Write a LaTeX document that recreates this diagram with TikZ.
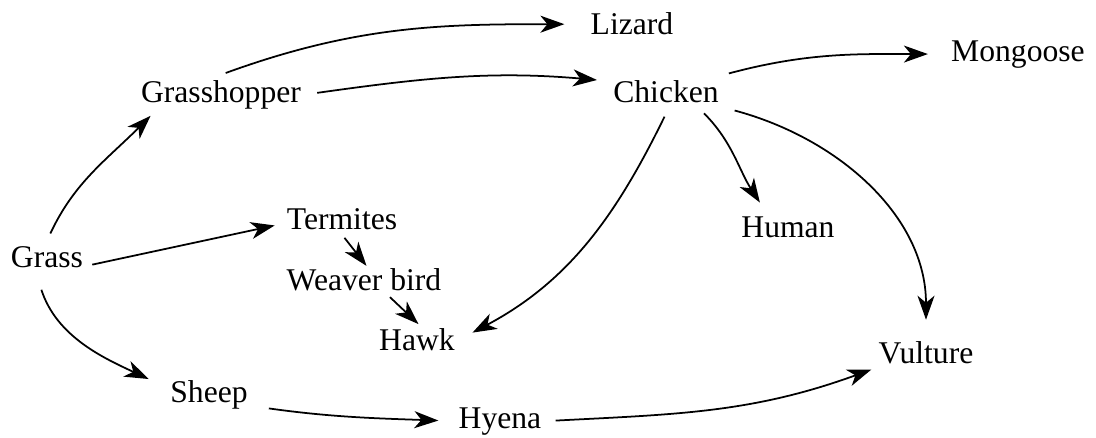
\documentclass[tikz,border=0pt]{standalone}
\usepackage{fontspec}
\setmainfont{Liberation Serif}
\usetikzlibrary{arrows.meta}

\begin{document}
\begin{tikzpicture}[x=0.02cm, y=0.02cm,
    animal/.style={anchor=base, inner sep=0.1cm, font=\fontsize{18}{20}\selectfont},
    eats/.style={-{Stealth[length=0.48cm, width=0.34cm, inset=0.14cm]}, line width=1pt}]
    \useasboundingbox (0,0) rectangle (1096,437);

    % Organisms
    \node[animal] (lizard) at (632,402) {Lizard};
    \node[animal] (mongoose) at (1018,376) {Mongoose};
    \node[animal] (grasshopper) at (221,335) {Grasshopper};
    \node[animal] (chicken) at (666,335) {Chicken};
    \node[animal] (termites) at (342,208) {Termites};
    \node[animal] (human) at (788,200) {Human};
    \node[animal] (grass) at (47,170) {Grass};
    \node[animal] (weaver) at (364,147) {Weaver bird};
    \node[animal] (hawk) at (417,87) {Hawk};
    \node[animal] (vulture) at (926,74) {Vulture};
    \node[animal] (sheep) at (209,35) {Sheep};
    \node[animal] (hyena) at (500,9) {Hyena};

    % Top arrows
    \draw[eats, shorten <=0.1cm, shorten >=0.42cm] (grasshopper.north) to[out=20, in=180] (lizard.west);
    \draw[eats, shorten <=0.22cm, shorten >=0.22cm] (grasshopper.east) to[out=8, in=175] (chicken.170);
    \draw[eats, shorten <=0.1cm, shorten >=0.36cm] (chicken.north east) to[out=15, in=180] (mongoose.west);

    % From grass
    \draw[eats, shorten <=0.16cm, shorten >=0.05cm] (grass.north) to[out=65, in=225] (grasshopper.196);
    \draw[eats, shorten <=0.08cm, shorten >=0.14cm] (grass.-12) -- (termites.185);
    \draw[eats, shorten <=0.36cm, shorten >=0.36cm] (grass.-125) to[out=-72, in=155] (sheep.170);

    % Middle chain
    \draw[eats, shorten <=0.08cm, shorten >=-0.08cm] (termites.south) -- (weaver.north);
    \draw[eats, shorten <=0.04cm, shorten >=-0.04cm] (weaver.-34) -- (hawk.north);

    % From chicken
    \draw[eats, shorten <=0.2cm, shorten >=0.28cm] (chicken.-80) to[out=-116, in=28] (hawk.east);
    \draw[eats, shorten <=0.16cm, shorten >=0.2cm] (chicken.-27) to[out=-45, in=123] (human.145);
    \draw[eats, shorten <=0.22cm, shorten >=0.32cm] (chicken.south east) to[out=-15, in=90] (vulture.north);

    % Bottom arrows
    \draw[eats, shorten <=0.32cm, shorten >=0.3cm] (sheep.-15) to[out=-8, in=178] (hyena.west);
    \draw[eats, shorten <=0.18cm, shorten >=0.04cm] (hyena.east) to[out=3, in=200] (vulture.south west);
\end{tikzpicture}
\end{document}
